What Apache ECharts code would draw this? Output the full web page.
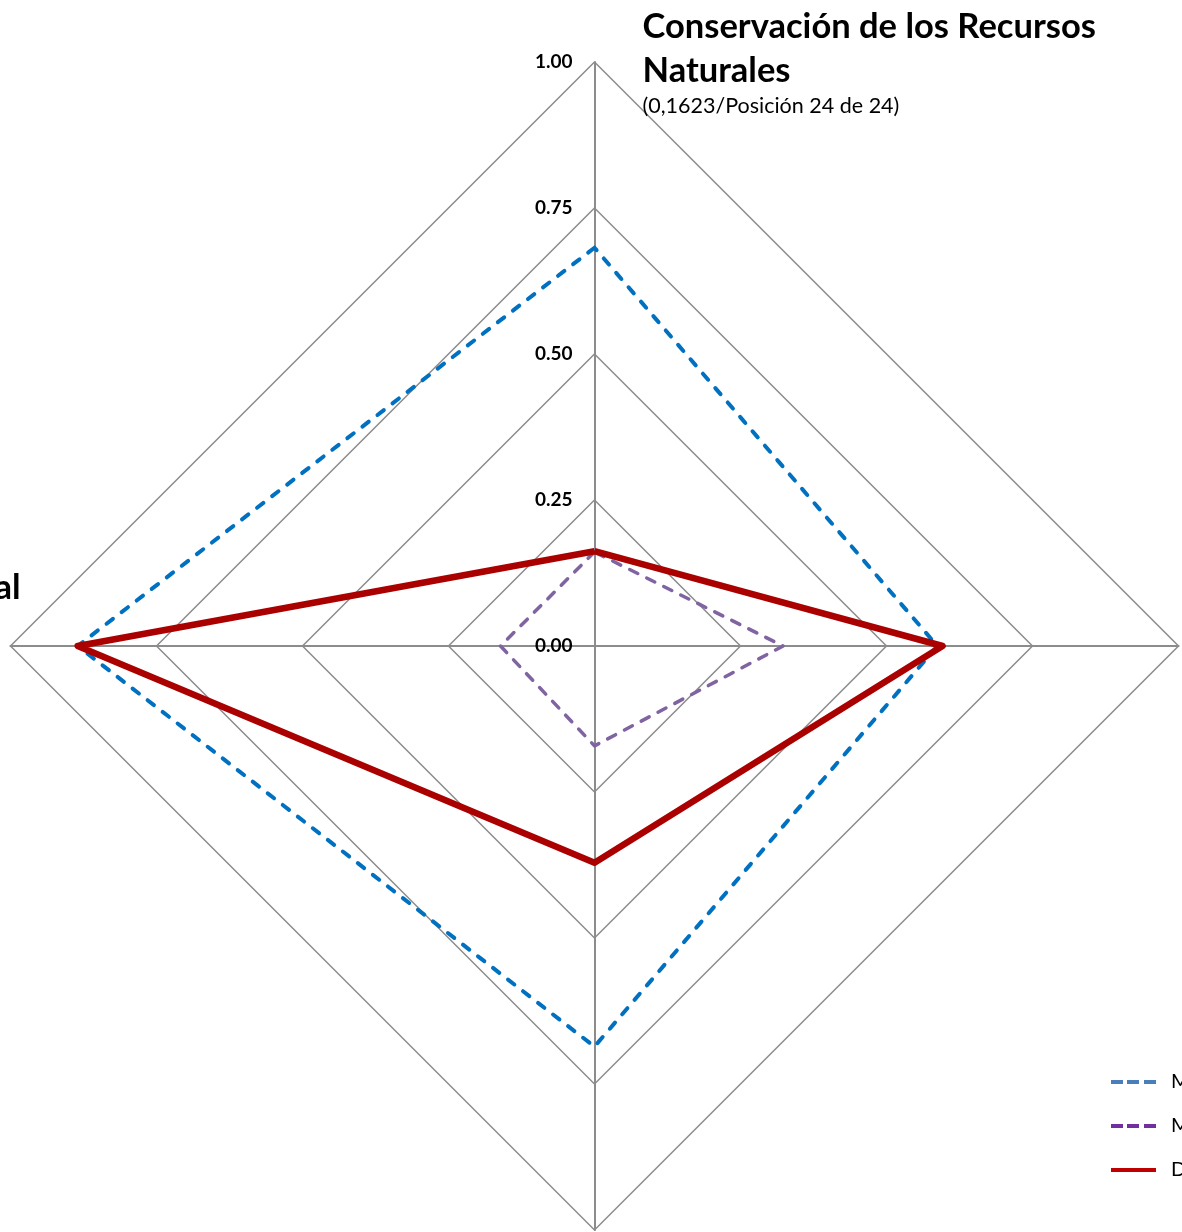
<!DOCTYPE html>
<html>
<head>
<meta charset="utf-8">
<script src="https://cdn.jsdelivr.net/npm/echarts@6/dist/echarts.min.js"></script>
<style>
html,body{margin:0;padding:0;background:#fff;}
#chart{width:1182px;height:1232px;}
</style>
</head>
<body>
<div id="chart"></div>
<script>
// Indicators (counter-clockwise from top: top, left, bottom, right)
const indicatorNames = [
  'Conservación de los Recursos Naturales',
  'Desarrollo Institucional',
  'Desarrollo Social',
  'Desarrollo Económico'
];
const indicatorSubtitles = [
  '(0,1623/Posición 24 de 24)',
  '',
  '(0,3700/Posición 20 de 24)',
  '(0,5950/Posición 10 de 24)'
];
const tickLabels = ['0.00', '0.25', '0.50', '0.75', '1.00'];
const seriesNames = ['Máximo', 'Mínimo', 'Distrito Capital'];
const maximoValues = [0.682, 0.885, 0.686, 0.587];
const minimoValues = [0.161, 0.161, 0.171, 0.323];
const distritoValues = [0.1623, 0.885, 0.371, 0.596];

const FONT = 'Lato, "Open Sans", sans-serif';
const rich = {
  b: { fontFamily: FONT, fontSize: 34.5, fontWeight: 'bold', color: '#000', lineHeight: 44 },
  s: { fontFamily: FONT, fontSize: 21.5, color: '#000', lineHeight: 26 }
};
function nameText(i) {
  const title = indicatorNames[i];
  let txt;
  if (i === 0) txt = '{b|Conservación de los Recursos}\n{b|Naturales}';
  else txt = '{b|' + title + '}';
  if (indicatorSubtitles[i]) txt += '\n{s|' + indicatorSubtitles[i] + '}';
  return txt;
}

const indicator = indicatorNames.map((n, i) => {
  const o = { name: n, min: 0, max: 1 };
  if (i === 0) {
    o.axisLabel = {
      show: true,
      fontFamily: FONT, fontSize: 19, fontWeight: 'bold', color: '#000',
      margin: 22,
      formatter: v => tickLabels[Math.round(v / 0.25)]
    };
    o.nameGap = 0;
    o.nameTextStyle = { align: 'left', verticalAlign: 'middle', padding: [0, 0, 0, 48], rich: rich };
  } else if (i === 1) {
    o.nameGap = -10;
    o.nameTextStyle = { align: 'right', verticalAlign: 'middle', padding: [0, 0, 116, 0], rich: rich };
  }
  return o;
});

const chart = echarts.init(document.getElementById('chart'), null, { renderer: 'canvas' });
chart.setOption({
  animation: false,
  backgroundColor: '#fff',
  radar: {
    center: [594.5, 646],
    radius: 584,
    startAngle: 90,
    shape: 'polygon',
    splitNumber: 4,
    indicator: indicator,
    axisName: {
      color: '#000',
      fontFamily: FONT,
      rich: rich,
      formatter: function (name, ind) {
        return nameText(indicatorNames.indexOf(name));
      }
    },
    axisNameGap: 12,
    axisLine: { lineStyle: { color: '#8c8c8c', width: 2 } },
    splitLine: { lineStyle: { color: '#8c8c8c', width: 1.5 } },
    splitArea: { show: false },
    axisTick: { show: false },
    axisLabel: { show: false }
  },
  legend: {
    orient: 'vertical',
    left: 1106,
    top: 1066,
    itemWidth: 45,
    itemHeight: 4,
    itemGap: 22,
    textStyle: { fontFamily: FONT, fontSize: 20, color: '#000', lineHeight: 22, padding: [0, 0, 0, 10] },
    data: [
      { name: seriesNames[0], icon: 'path://M0,0h12v4h-12z M16,0h12v4h-12z M33,0h12v4h-12z', itemStyle: { color: '#4a7ebb' } },
      { name: seriesNames[1], icon: 'path://M0,0h12v4h-12z M16,0h12v4h-12z M33,0h12v4h-12z', itemStyle: { color: '#7030a0' } },
      { name: seriesNames[2], icon: 'path://M0,0h45v4h-45z', itemStyle: { color: '#c00000' } }
    ]
  },
  series: [{
    type: 'radar',
    symbol: 'none',
    data: [
      { name: seriesNames[0], value: maximoValues,
        lineStyle: { color: '#0070c0', width: 4, type: [8, 11], cap: 'round' }, itemStyle: { color: '#0070c0' } },
      { name: seriesNames[1], value: minimoValues,
        lineStyle: { color: '#8064a2', width: 3.5, type: [9, 10], cap: 'round' }, itemStyle: { color: '#8064a2' } },
      { name: seriesNames[2], value: distritoValues,
        lineStyle: { color: '#aa0000', width: 6.5, type: 'solid' }, itemStyle: { color: '#aa0000' } }
    ]
  }]
});
</script>
</body>
</html>
